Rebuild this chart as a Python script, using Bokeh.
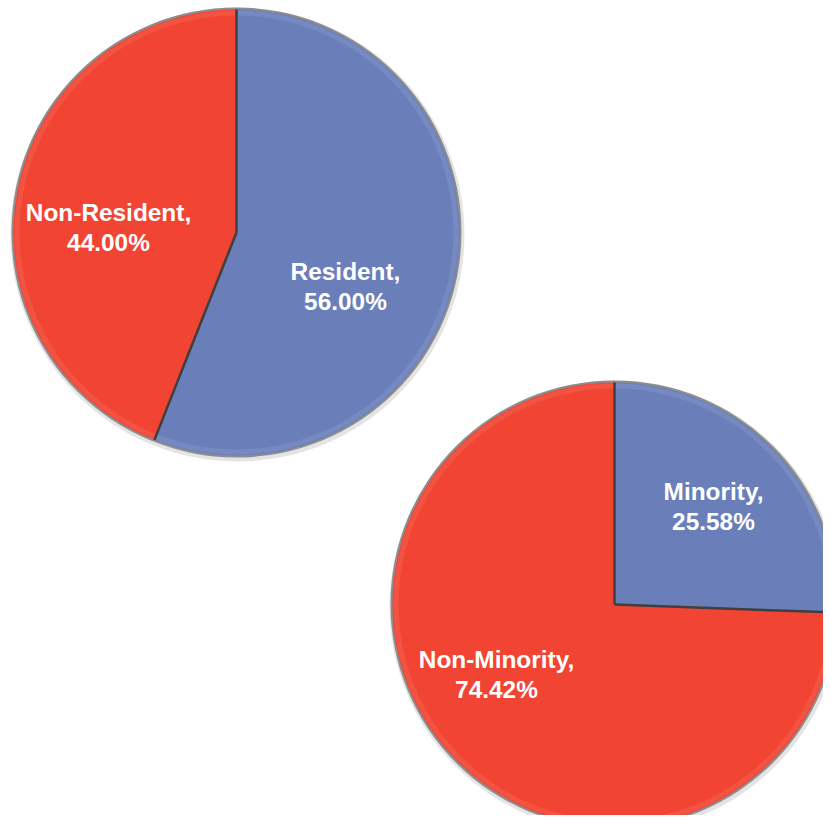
import numpy as np
from bokeh.plotting import figure
from bokeh.models import Range1d, ColumnDataSource
from bokeh.core.properties import value
from bokeh.embed import file_html
from bokeh.resources import INLINE

# ---- data ----
res_labels = ["Resident", "Non-Resident"]
res_values = [56.00, 44.00]
min_labels = ["Minority", "Non-Minority"]
min_values = [25.58, 74.42]
slice_colors = ["#6A7FB9", "#F24433"]
rim_colors = ["#8C9DD0", "#F7705F"]

# ---- layout (pixel coordinates of the figure) ----
W, H = 823, 815
pies = [
    dict(labels=res_labels, values=res_values, center=(236, 232), r=223,
         label_pos=[(345, 286), (108, 227)]),
    dict(labels=min_labels, values=min_values, center=(614, 604), r=222,
         label_pos=[(713, 506), (496, 674)]),
]

p = figure(width=W, height=H, output_backend="svg", toolbar_location=None,
           x_range=Range1d(0, W), y_range=Range1d(-H, 0),
           min_border=0, outline_line_color=None)
p.xaxis.visible = False
p.yaxis.visible = False
p.grid.visible = False
p.background_fill_color = "white"
p.border_fill_color = "white"

for pie in pies:
    cx, cy = pie["center"]
    cy = -cy
    r = pie["r"]
    vals = np.array(pie["values"], dtype=float)
    frac = vals / vals.sum()
    c1 = np.cumsum(frac)
    c0 = c1 - frac
    start = np.deg2rad(90 - 360 * c1)
    end = np.deg2rad(90 - 360 * c0)

    # soft shadow / rim
    p.circle(x=[cx + 1], y=[cy - 2], radius=r + 4, fill_color="#e4e4e4",
             line_color=None)
    p.circle(x=[cx], y=[cy], radius=r + 2, fill_color="#8d8d8d",
             line_color=None)

    src = ColumnDataSource(dict(
        x=[cx] * len(vals), y=[cy] * len(vals), start=start, end=end,
        color=slice_colors[:len(vals)], rim=rim_colors[:len(vals)]))
    p.wedge(x="x", y="y", radius=r, start_angle="start", end_angle="end",
            fill_color="color", line_color=None, source=src)
    # bevel highlight near rim
    p.annular_wedge(x="x", y="y", inner_radius=r - 6, outer_radius=r - 1,
                    start_angle="start", end_angle="end", fill_color="rim",
                    fill_alpha=0.35, line_color=None, source=src)
    # dark separators between slices
    for a in start:
        p.segment(x0=[cx], y0=[cy], x1=[cx + r * np.cos(a)],
                  y1=[cy + r * np.sin(a)], line_color="#3f3f3f",
                  line_width=2.5)

    texts = [f"{lab},\n{v:.2f}%" for lab, v in zip(pie["labels"], pie["values"])]
    lx = [q[0] for q in pie["label_pos"]]
    ly = [-q[1] for q in pie["label_pos"]]
    p.text(x=lx, y=ly, text=texts, text_align="center",
           text_baseline="middle", text_color="white",
           text_font=value("Liberation Sans"), text_font_style="bold",
           text_font_size="24.4px", text_line_height=1.12)

open("out.html", "w").write(file_html(p, INLINE))
